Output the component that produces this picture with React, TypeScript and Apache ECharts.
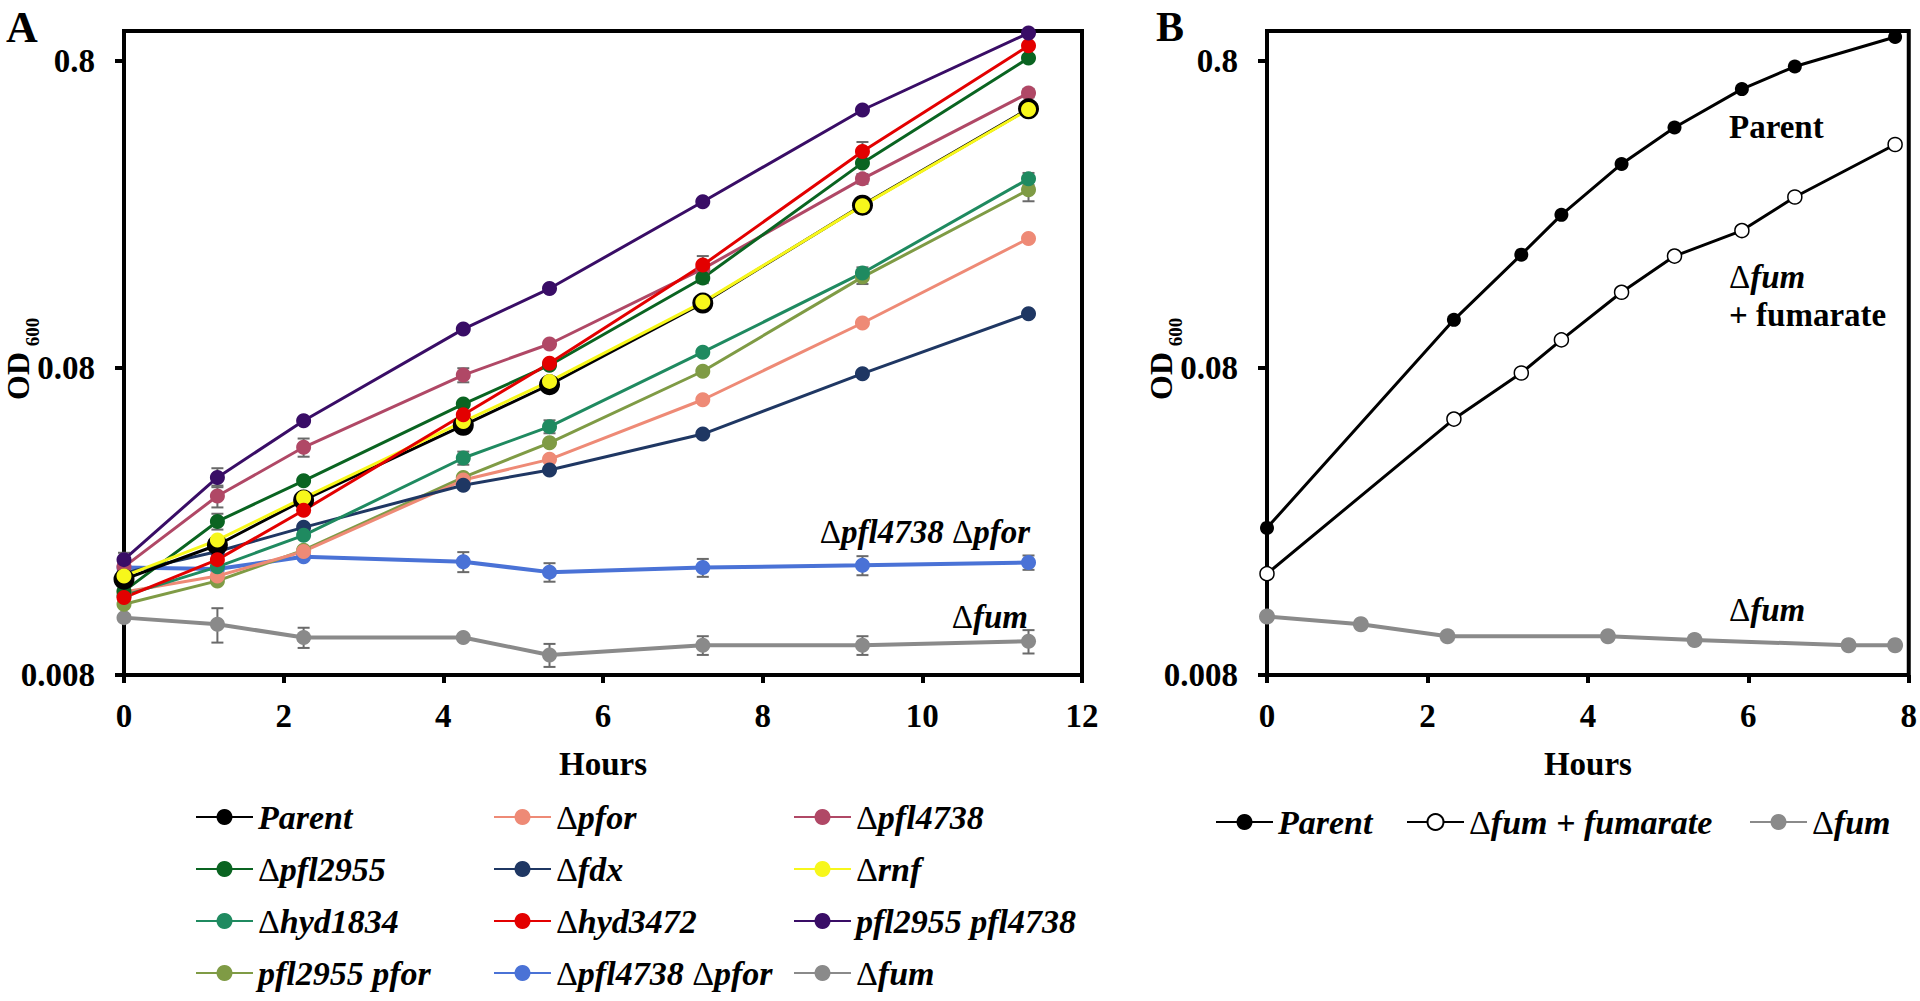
import React, { useEffect, useRef } from 'react';
import * as echarts from 'echarts';

// ---------- Panel A data ----------
const hoursA = [0, 1.17, 2.25, 4.25, 5.33, 7.25, 9.25, 11.33];
const parentA = [0.0164, 0.0212, 0.0297, 0.052, 0.0705, 0.13, 0.271, 0.558];
const pforA = [0.0149, 0.0168, 0.0202, 0.0345, 0.0403, 0.063, 0.112, 0.211];
const pfl4738A = [0.018, 0.0306, 0.0441, 0.0758, 0.0957, 0.168, 0.33, 0.628];
const pfl2955A = [0.015, 0.0253, 0.0343, 0.061, 0.0816, 0.157, 0.372, 0.816];
const fdxA = [0.0172, 0.0202, 0.0242, 0.0332, 0.0372, 0.0487, 0.0766, 0.12];
const rnfA = [0.0168, 0.022, 0.0302, 0.0535, 0.0723, 0.131, 0.27, 0.555];
const hyd1834A = [0.0145, 0.018, 0.0228, 0.0407, 0.0515, 0.09, 0.163, 0.33];
const hyd3472A = [0.0143, 0.019, 0.0275, 0.0563, 0.0828, 0.173, 0.405, 0.895];
const dbl2955_4738A = [0.019, 0.0352, 0.0538, 0.107, 0.145, 0.278, 0.553, 0.985];
const dbl2955_pforA = [0.0136, 0.0162, 0.0204, 0.0352, 0.0456, 0.078, 0.158, 0.304];
const dbl4738_pforA = [0.0179, 0.0177, 0.0194, 0.0187, 0.0173, 0.0179, 0.0182, 0.0186];
const fumA = [0.0123, 0.0117, 0.0106, 0.0106, 0.0093, 0.01, 0.01, 0.0103];

// error bars (± OD) for panel A, null = none visible
const errPurpleA = [0.001, 0.0025, null, null, null, null, null, null];
const errMauveA = [null, 0.0025, 0.003, 0.004, null, null, 0.012, 0.02];
const errGreenA = [null, 0.0015, null, null, null, 0.006, null, null];
const errRedA = [null, null, null, null, null, 0.012, 0.03, null];
const errTealA = [null, null, null, 0.002, 0.0025, null, 0.007, 0.015];
const errOliveA = [null, null, null, null, null, null, 0.008, 0.025];
const errBlueA = [0.001, null, null, 0.0014, 0.0012, 0.0012, 0.0013, 0.001];
const errFumA = [null, 0.0015, 0.0008, null, 0.0008, 0.0007, 0.0007, 0.0009];

// ---------- Panel B data ----------
const hoursB = [0, 2.33, 3.17, 3.67, 4.42, 5.08, 5.92, 6.58, 7.83];
const parentB = [0.0241, 0.1147, 0.187, 0.252, 0.369, 0.485, 0.647, 0.766, 0.956];
const fumFumarateB = [0.0171, 0.0545, 0.077, 0.0987, 0.141, 0.185, 0.224, 0.288, 0.427];
const hoursFumB = [0, 1.17, 2.25, 4.25, 5.33, 7.25, 7.83];
const fumB = [0.0124, 0.0117, 0.0107, 0.0107, 0.0104, 0.01, 0.01];

// ---------- axis tick labels ----------
const yTickLabels = ['0.008', '0.08', '0.8'];

const FONT = "'Liberation Serif', 'Times New Roman', Times, serif";

const C = {
  parent: '#000000',
  pfor: '#EE8A76',
  pfl4738: '#B04866',
  pfl2955: '#0A6421',
  fdx: '#1F3763',
  rnf: '#F7F71B',
  hyd1834: '#1F8A60',
  hyd3472: '#E30000',
  d2955_4738: '#390D66',
  d2955_pfor: '#7F9B45',
  d4738_pfor: '#4A72D6',
  fum: '#8A8A8A',
};

const richStyles = (size: number) => ({
  u: { fontFamily: FONT, fontSize: size, fontWeight: 'normal', fontStyle: 'normal', color: '#000', lineHeight: size + 2 },
  i: { fontFamily: FONT, fontSize: size, fontWeight: 'bold', fontStyle: 'italic', color: '#000', lineHeight: size + 2 },
  b: { fontFamily: FONT, fontSize: size, fontWeight: 'bold', fontStyle: 'normal', color: '#000', lineHeight: size + 2 },
});

function richName(name: string) {
  return name
    .split(' ')
    .map((w) => (w.startsWith('Δ') ? `{u|Δ}{i|${w.slice(1)}}` : `{i|${w}}`))
    .join('{i| }');
}

function pairs(xs: number[], ys: number[]) {
  return xs.map((x, i) => [x, ys[i]]);
}

function lineSeries(
  name: string,
  xs: number[],
  ys: number[],
  color: string,
  axis: number,
  extra: any = {}
) {
  return {
    type: 'line',
    name,
    xAxisIndex: axis,
    yAxisIndex: axis,
    data: pairs(xs, ys),
    symbol: 'circle',
    symbolSize: 15,
    showSymbol: true,
    lineStyle: { color, width: 3 },
    itemStyle: { color },
    emphasis: { disabled: true },
    z: 3,
    ...extra,
  };
}

export default function App() {
  const ref = useRef<HTMLDivElement>(null);

  useEffect(() => {
    document.body.style.margin = '0';
    const chart = echarts.init(ref.current!, null, { renderer: 'svg' });

    const errSets: [number[], (number | null)[]][] = [
      [dbl2955_4738A, errPurpleA],
      [pfl4738A, errMauveA],
      [pfl2955A, errGreenA],
      [hyd3472A, errRedA],
      [hyd1834A, errTealA],
      [dbl2955_pforA, errOliveA],
      [dbl4738_pforA, errBlueA],
      [fumA, errFumA],
    ];
    const errData: number[][] = [];
    errSets.forEach(([vals, errs]) => {
      errs.forEach((e, i) => {
        if (e != null) errData.push([hoursA[i], vals[i], e]);
      });
    });

    const yLabelAxis = (gridIdx: number) => ({
      type: 'value',
      gridIndex: gridIdx,
      min: 0,
      max: 2,
      interval: 1,
      axisLine: { show: false },
      axisTick: { show: true, length: 9, lineStyle: { color: '#000', width: 4 } },
      splitLine: { show: false },
      axisLabel: {
        margin: 29,
        fontFamily: FONT,
        fontSize: 33,
        fontWeight: 'bold',
        color: '#000',
        formatter: (v: number) => yTickLabels[Math.round(v)] ?? '',
      },
    });

    const logAxis = (gridIdx: number) => ({
      type: 'log',
      logBase: 10,
      gridIndex: gridIdx,
      min: 0.008,
      max: 1,
      axisLine: { show: false },
      axisTick: { show: false },
      axisLabel: { show: false },
      splitLine: { show: false },
    });

    const hourAxis = (gridIdx: number, max: number) => ({
      type: 'value',
      gridIndex: gridIdx,
      min: 0,
      max,
      interval: 2,
      axisLine: { show: false },
      axisTick: { show: true, length: 8, lineStyle: { color: '#000', width: 4 } },
      splitLine: { show: false },
      axisLabel: {
        margin: 24,
        fontFamily: FONT,
        fontSize: 33,
        fontWeight: 'bold',
        color: '#000',
      },
      name: 'Hours',
      nameLocation: 'middle',
      nameGap: 72,
      nameTextStyle: { fontFamily: FONT, fontSize: 33, fontWeight: 'bold', color: '#000' },
    });

    const hiddenX = (gridIdx: number) => ({
      type: 'value',
      gridIndex: gridIdx,
      min: 0,
      max: 1,
      show: false,
    });

    const legendBase = {
      orient: 'vertical',
      padding: 0,
      itemWidth: 57,
      itemHeight: 20,
      itemGap: 18,
      selectedMode: false,
      formatter: richName,
      textStyle: { rich: richStyles(34), color: '#000' },
    };

    const annRich = richStyles(33);

    const option: any = {
      animation: false,
      backgroundColor: '#fff',
      grid: [
        { left: 124, top: 31, width: 958, height: 644, show: true, borderColor: '#000', borderWidth: 4, backgroundColor: 'transparent' },
        { left: 1267, top: 31, width: 642, height: 644, show: true, borderColor: '#000', borderWidth: 4, backgroundColor: 'transparent' },
        { left: 124, top: 61, width: 10, height: 614, show: false },
        { left: 1267, top: 61, width: 10, height: 614, show: false },
      ],
      xAxis: [hourAxis(0, 12), hourAxis(1, 8), hiddenX(2), hiddenX(3)],
      yAxis: [logAxis(0), logAxis(1), yLabelAxis(2), yLabelAxis(3)],
      legend: [
        { ...legendBase, left: 195, top: 800, data: ['Parent', 'Δpfl2955', 'Δhyd1834', 'pfl2955 pfor'] },
        { ...legendBase, left: 493, top: 800, data: ['Δpfor', 'Δfdx', 'Δhyd3472', 'Δpfl4738 Δpfor'] },
        { ...legendBase, left: 793, top: 800, data: ['Δpfl4738', 'Δrnf', 'pfl2955 pfl4738', 'Δfum'] },
        { ...legendBase, left: 1215, top: 805, data: ['Parent'] },
        { ...legendBase, left: 1406, top: 805, data: ['Δfum + fumarate'] },
        { ...legendBase, left: 1749, top: 805, data: ['Δfum'] },
      ],
      series: [
        {
          type: 'custom',
          name: 'errorA',
          xAxisIndex: 0,
          yAxisIndex: 0,
          z: 1,
          silent: true,
          data: errData,
          encode: { x: 0, y: 1 },
          renderItem: (params: any, api: any) => {
            const x = api.value(0);
            const v = api.value(1);
            const e = api.value(2);
            const top = api.coord([x, v + e]);
            const bot = api.coord([x, Math.max(v - e, 0.0081)]);
            const style = { stroke: '#6a6a6a', lineWidth: 2 };
            return {
              type: 'group',
              children: [
                { type: 'line', shape: { x1: top[0], y1: top[1], x2: bot[0], y2: bot[1] }, style },
                { type: 'line', shape: { x1: top[0] - 6, y1: top[1], x2: top[0] + 6, y2: top[1] }, style },
                { type: 'line', shape: { x1: bot[0] - 6, y1: bot[1], x2: bot[0] + 6, y2: bot[1] }, style },
              ],
            };
          },
        },
        lineSeries('Δfum', hoursA, fumA, C.fum, 0, { lineStyle: { color: C.fum, width: 4 } }),
        lineSeries('Δpfl4738 Δpfor', hoursA, dbl4738_pforA, C.d4738_pfor, 0, { lineStyle: { color: C.d4738_pfor, width: 4 } }),
        lineSeries('pfl2955 pfor', hoursA, dbl2955_pforA, C.d2955_pfor, 0),
        lineSeries('Δpfor', hoursA, pforA, C.pfor, 0),
        lineSeries('Δfdx', hoursA, fdxA, C.fdx, 0),
        lineSeries('Δhyd1834', hoursA, hyd1834A, C.hyd1834, 0),
        lineSeries('Δpfl4738', hoursA, pfl4738A, C.pfl4738, 0),
        lineSeries('Δpfl2955', hoursA, pfl2955A, C.pfl2955, 0),
        lineSeries('Parent', hoursA, parentA, C.parent, 0, { symbolSize: 21 }),
        lineSeries('Δrnf', hoursA, rnfA, C.rnf, 0),
        lineSeries('Δhyd3472', hoursA, hyd3472A, C.hyd3472, 0),
        lineSeries('pfl2955 pfl4738', hoursA, dbl2955_4738A, C.d2955_4738, 0),
        // Panel B
        lineSeries('Δfum', hoursFumB, fumB, C.fum, 1, { lineStyle: { color: C.fum, width: 4 }, symbolSize: 16 }),
        lineSeries('Parent', hoursB, parentB, '#000', 1, { symbolSize: 14 }),
        lineSeries('Δfum + fumarate', hoursB, fumFumarateB, '#000', 1, {
          symbolSize: 14,
          itemStyle: { color: '#fff', borderColor: '#000', borderWidth: 1.5 },
        }),
      ],
      graphic: [
        { type: 'text', x: 22, y: 27, style: { text: 'A', fontFamily: FONT, fontSize: 44, fontWeight: 'bold', fill: '#000', align: 'center', verticalAlign: 'middle', textAlign: 'center', textVerticalAlign: 'middle' } },
        { type: 'text', x: 1170, y: 27, style: { text: 'B', fontFamily: FONT, fontSize: 42, fontWeight: 'bold', fill: '#000', align: 'center', verticalAlign: 'middle', textAlign: 'center', textVerticalAlign: 'middle' } },
        { type: 'text', x: 18, y: 376, rotation: Math.PI / 2, style: { text: 'OD', fontFamily: FONT, fontSize: 32, fontWeight: 'bold', fill: '#000', align: 'center', verticalAlign: 'middle', textAlign: 'center', textVerticalAlign: 'middle' } },
        { type: 'text', x: 32, y: 332, rotation: Math.PI / 2, style: { text: '600', fontFamily: FONT, fontSize: 19, fontWeight: 'bold', fill: '#000', align: 'center', verticalAlign: 'middle', textAlign: 'center', textVerticalAlign: 'middle' } },
        { type: 'text', x: 1161, y: 376, rotation: Math.PI / 2, style: { text: 'OD', fontFamily: FONT, fontSize: 32, fontWeight: 'bold', fill: '#000', align: 'center', verticalAlign: 'middle', textAlign: 'center', textVerticalAlign: 'middle' } },
        { type: 'text', x: 1175, y: 332, rotation: Math.PI / 2, style: { text: '600', fontFamily: FONT, fontSize: 19, fontWeight: 'bold', fill: '#000', align: 'center', verticalAlign: 'middle', textAlign: 'center', textVerticalAlign: 'middle' } },
        { type: 'text', x: 1030, y: 532, z: 10, style: { text: richName('Δpfl4738 Δpfor'), rich: annRich, align: 'right', verticalAlign: 'middle', textAlign: 'right', textVerticalAlign: 'middle' } },
        { type: 'text', x: 1028, y: 617, z: 10, style: { text: richName('Δfum'), rich: annRich, align: 'right', verticalAlign: 'middle', textAlign: 'right', textVerticalAlign: 'middle' } },
        { type: 'text', x: 1729, y: 127, z: 10, style: { text: '{b|Parent}', rich: annRich, align: 'left', verticalAlign: 'middle', textAlign: 'left', textVerticalAlign: 'middle' } },
        { type: 'text', x: 1729, y: 277, z: 10, style: { text: richName('Δfum'), rich: annRich, align: 'left', verticalAlign: 'middle', textAlign: 'left', textVerticalAlign: 'middle' } },
        { type: 'text', x: 1729, y: 315, z: 10, style: { text: '{b|+ fumarate}', rich: annRich, align: 'left', verticalAlign: 'middle', textAlign: 'left', textVerticalAlign: 'middle' } },
        { type: 'text', x: 1729, y: 610, z: 10, style: { text: richName('Δfum'), rich: annRich, align: 'left', verticalAlign: 'middle', textAlign: 'left', textVerticalAlign: 'middle' } },
      ],
    };

    chart.setOption(option);
    return () => chart.dispose();
  }, []);

  return <div ref={ref} style={{ position: 'absolute', left: 0, top: 0, width: 1920, height: 1001 }} />;
}
